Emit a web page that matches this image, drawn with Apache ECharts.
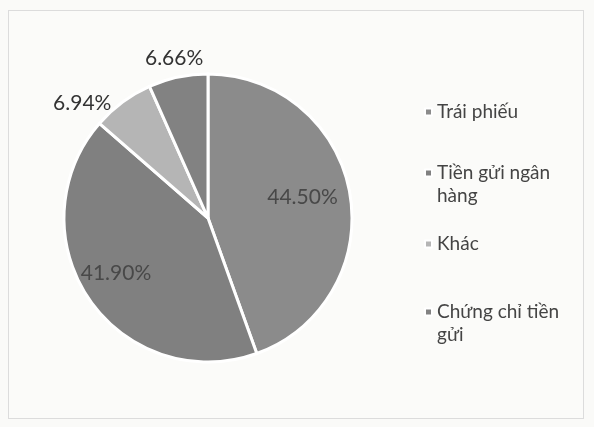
<!DOCTYPE html>
<html>
<head>
<meta charset="utf-8">
<script src="https://cdn.jsdelivr.net/npm/echarts@6/dist/echarts.min.js"></script>
<style>
html,body{margin:0;padding:0;background:#fafaf8;}
#frame{position:absolute;left:8px;top:10px;width:574px;height:407px;border:1px solid #dcdcdc;background:#fbfbf9;}
#chart{position:absolute;left:0;top:0;width:594px;height:427px;}
</style>
</head>
<body>
<div id="frame"></div>
<div id="chart"></div>
<script>
const categories = ['Trái phiếu', 'Tiền gửi ngân hàng', 'Khác', 'Chứng chỉ tiền gửi'];
const legendLabels = ['Trái phiếu', 'Tiền gửi ngân\nhàng', 'Khác', 'Chứng chỉ tiền\ngửi'];
const values = [44.50, 41.90, 6.94, 6.66];
// where each value label sits: inside the slice, beside the slice, or centred above it
const labelMode = ['inner', 'inner', 'outer', 'above'];
const colors = ['#8b8b8b', '#808080', '#b5b5b5', '#828282'];
const legendFirstLine = [112, 173, 244, 312];

const chart = echarts.init(document.getElementById('chart'), null, {renderer: 'canvas'});
const font = 'Lato, "Open Sans", sans-serif';
const CX = 208, CY = 218, R = 144;
const LH = 23;
const fmt = p => p.value.toFixed(2) + '%';

function overlay(mode, radius, shift) {
  return {
    type: 'pie',
    silent: true,
    center: [CX, CY],
    radius: radius,
    startAngle: 90,
    clockwise: true,
    data: categories.map((c, i) => ({
      name: c,
      value: values[i],
      itemStyle: {color: 'rgba(0,0,0,0)', borderWidth: 0},
      label: {show: labelMode[i] === mode}
    })),
    label: {
      position: 'inside',
      formatter: fmt,
      color: mode === 'inner' ? '#484848' : '#333333',
      fontFamily: font,
      fontSize: 21
    },
    labelLayout: shift,
    labelLine: {show: false},
    emphasis: {disabled: true}
  };
}

// legend icon is centred on the text block; a leading blank line puts it level with the first line
const legends = categories.map((c, i) => {
  const extra = legendLabels[i].split('\n').length - 1;
  return {
    data: [c],
    orient: 'vertical',
    left: 424,
    top: legendFirstLine[i] - LH / 2 - extra * LH,
    padding: 0,
    icon: 'rect',
    itemWidth: 7,
    itemHeight: 7,
    itemGap: 0,
    selectedMode: false,
    formatter: () => '\n'.repeat(extra) + legendLabels[i],
    textStyle: {
      color: '#444',
      fontFamily: font,
      fontSize: 19,
      lineHeight: LH
    }
  };
});

chart.setOption({
  animation: false,
  backgroundColor: 'transparent',
  legend: legends,
  series: [
    {
      type: 'pie',
      center: [CX, CY],
      radius: [0, R],
      startAngle: 90,
      clockwise: true,
      data: categories.map((c, i) => ({
        name: c,
        value: values[i],
        itemStyle: {color: colors[i]},
        label: {show: labelMode[i] === 'outer'}
      })),
      itemStyle: {borderColor: '#ffffff', borderWidth: 3},
      label: {
        position: 'outside',
        formatter: fmt,
        color: '#333333',
        fontFamily: font,
        fontSize: 21
      },
      labelLayout: {dx: -3, dy: 5},
      labelLine: {show: false, length: 5, length2: 0},
      emphasis: {disabled: true}
    },
    overlay('inner', [56, R], {dx: -7, dy: -3}),
    overlay('above', [R + 2, R + 30], {})
  ]
});
</script>
</body>
</html>
